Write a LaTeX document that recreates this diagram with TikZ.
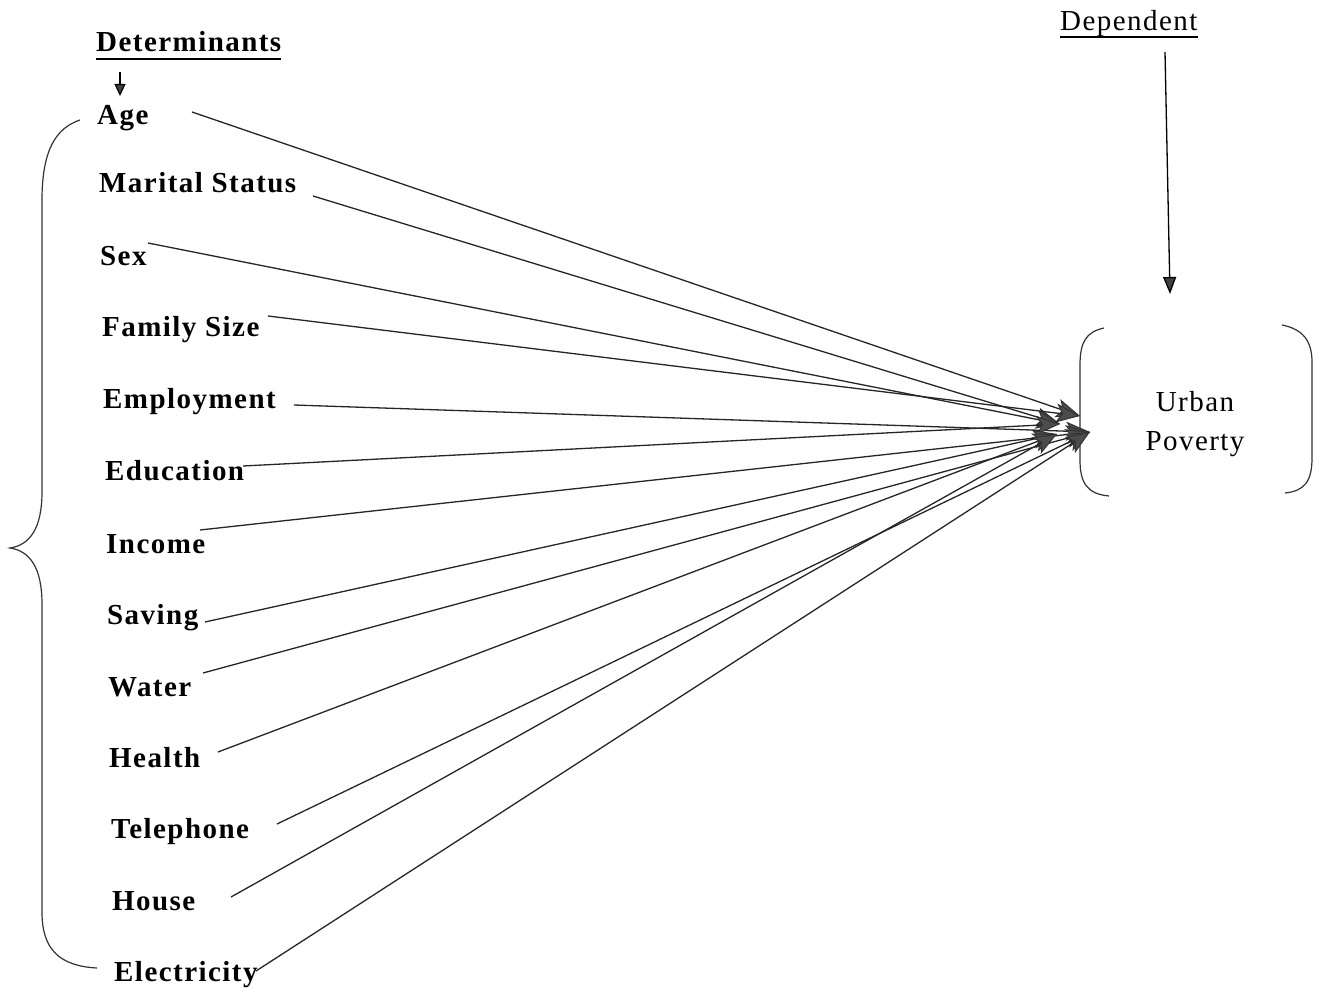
\documentclass[tikz,border=0pt]{standalone}
\usepackage{fontspec}
\setmainfont{Liberation Serif}
\newfontfamily\labfont[LetterSpace=5]{Liberation Serif}
\usetikzlibrary{arrows.meta}
\begin{document}
\begin{tikzpicture}[x=1pt,y=-1pt,
  lab/.style={anchor=base west,inner sep=0pt,font=\labfont\fontsize{29}{32}\selectfont\bfseries},
  hdr/.style={anchor=base west,inner sep=0pt,font=\labfont\fontsize{29}{34}\selectfont},
  link/.style={line width=1.3pt,draw=black!85,-{Stealth[length=24pt,width=19pt,inset=6pt,fill=black!70,color=black!80,line width=1pt]}},
  brk/.style={line width=1.2pt,draw=black!80}
]
\useasboundingbox[fill=white] (0,0) rectangle (1325,992);

% headers
\node[lab] (det) at (96,52) {Determinants};
\draw[line width=1.3pt] ([yshift=-7pt]det.base west) -- ([yshift=-7pt]det.base east);
\node[hdr] (dep) at (1060,31) {Dependent};
\draw[line width=1.2pt] ([yshift=-6pt]dep.base west) -- ([yshift=-6pt]dep.base east);

% determinant labels
\node[lab] (age) at (97,125) {Age};
\node[lab] (mar) at (99,193) {Marital Status};
\node[lab] (sex) at (100,266) {Sex};
\node[lab] (fam) at (102,336) {Family Size};
\node[lab] (emp) at (103,408) {Employment};
\node[lab] (edu) at (105,480) {Education};
\node[lab] (inc) at (106,553) {Income};
\node[lab] (sav) at (107,624) {Saving};
\node[lab] (wat) at (108,696) {Water};
\node[lab] (hea) at (109,767) {Health};
\node[lab] (tel) at (111,838) {Telephone};
\node[lab] (hou) at (112,910) {House};
\node[lab] (ele) at (114,981) {Electricity};

% small arrow under Determinants
\coordinate (da1) at (120,72);
\coordinate (da2) at (120,96);
\draw[line width=1.1pt,-{Triangle[length=12pt,width=11pt,fill=black!75]}] (da1) -- (da2);

% dependent arrow
\coordinate (dp1) at (1165,52);
\coordinate (dp2) at (1170,294);
\draw[line width=1.3pt,-{Triangle[length=17pt,width=13pt,fill=black!75]}] (dp1) -- (dp2);

% urban poverty box
\node[hdr,anchor=base] (urb) at (1195,411) {Urban};
\node[hdr,anchor=base] (pov) at (1195,450) {Poverty};
\draw[brk] (1104,328) .. controls (1086,332) and (1080,342) .. (1080,365) -- (1080,460) .. controls (1080,484) and (1088,494) .. (1109,496);
\draw[brk] (1282,325) .. controls (1302,329) and (1312,340) .. (1312,362) -- (1312,458) .. controls (1312,482) and (1304,491) .. (1285,493);

% brace
\draw[brk] (80,120) .. controls (56,128) and (42,150) .. (42,200) -- (42,492) .. controls (42,528) and (30,545) .. (10,548)
  .. controls (30,551) and (42,568) .. (42,604) -- (42,912) .. controls (42,950) and (60,966) .. (97,968);

% start points
\coordinate (s1) at (192,112);
\coordinate (s2) at (313,196);
\coordinate (s3) at (148,243);
\coordinate (s4) at (268,316);
\coordinate (s5) at (294,405);
\coordinate (s6) at (243,466);
\coordinate (s7) at (200,530);
\coordinate (s8) at (205,622);
\coordinate (s9) at (203,673);
\coordinate (s10) at (218,752);
\coordinate (s11) at (277,824);
\coordinate (s12) at (231,897);
\coordinate (s13) at (256,971);
% end points
\coordinate (e1) at (1060,424);
\coordinate (e2) at (1090,432);
\coordinate (e3) at (1080,416);
\coordinate (e4) at (1057,434);

\draw[link] (s1) -- (e3);
\draw[link] (s2) -- (e1);
\draw[link] (s3) -- (e1);
\draw[link] (s4) -- (e3);
\draw[link] (s5) -- (e2);
\draw[link] (s6) -- (e1);
\draw[link] (s7) -- (e2);
\draw[link] (s8) -- (e4);
\draw[link] (s9) -- (e2);
\draw[link] (s10) -- (e4);
\draw[link] (s11) -- (e2);
\draw[link] (s12) -- (e4);
\draw[link] (s13) -- (e2);
\end{tikzpicture}
\end{document}
